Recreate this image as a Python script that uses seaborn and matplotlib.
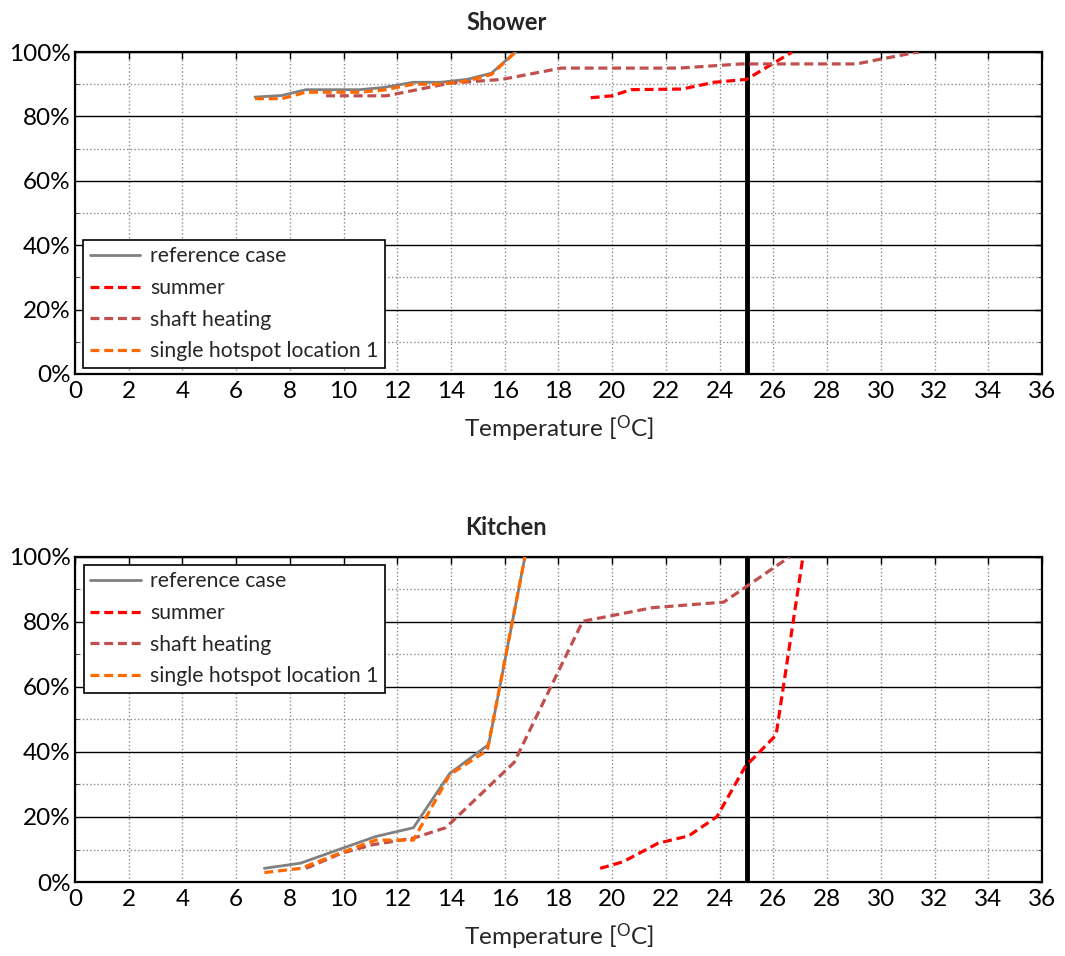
import numpy as np
import pandas as pd
import matplotlib
matplotlib.use("Agg")
import matplotlib.pyplot as plt
import seaborn as sns
from matplotlib.ticker import MultipleLocator, FuncFormatter

# ---------------- data ----------------
series_names = ["reference case", "summer", "shaft heating", "single hotspot location 1"]

# Shower
shower_ref_x = [6.7, 7.7, 8.6, 10.6, 11.5, 12.6, 13.6, 14.6, 15.5, 16.4]
shower_ref_y = [86.0, 86.5, 88.3, 88.3, 89.0, 90.6, 90.6, 91.5, 93.4, 100.0]
shower_summer_x = [19.2, 20.0, 20.7, 22.6, 23.8, 25.0, 26.0, 26.7]
shower_summer_y = [85.8, 86.4, 88.3, 88.5, 90.6, 91.5, 96.5, 100.0]
shower_shaft_x = [9.35, 11.6, 13.95, 15.9, 18.1, 22.5, 24.8, 29.1, 30.0, 31.4]
shower_shaft_y = [86.4, 86.4, 90.3, 91.5, 95.0, 95.0, 96.3, 96.3, 97.8, 100.0]
shower_hot_x = [6.7, 7.7, 8.6, 10.6, 11.5, 12.6, 13.6, 14.6, 15.5, 16.4]
shower_hot_y = [85.5, 85.5, 87.5, 87.5, 88.2, 90.0, 90.0, 91.0, 93.0, 100.0]

# Kitchen
kitchen_ref_x = [7.05, 8.4, 10.0, 11.2, 12.6, 13.95, 15.4, 16.75]
kitchen_ref_y = [4.2, 5.8, 10.5, 14.0, 16.7, 33.4, 42.3, 100.0]
kitchen_summer_x = [19.55, 20.4, 21.7, 22.85, 23.9, 24.95, 26.1, 27.1]
kitchen_summer_y = [4.2, 6.2, 11.9, 14.2, 20.1, 35.5, 45.2, 100.0]
kitchen_shaft_x = [8.6, 9.9, 11.1, 12.6, 13.8, 16.35, 18.9, 21.5, 24.15, 26.6]
kitchen_shaft_y = [4.2, 8.8, 11.5, 13.5, 16.7, 36.8, 80.2, 84.4, 86.1, 100.0]
kitchen_hot_x = [7.05, 8.4, 10.0, 11.2, 12.6, 13.95, 15.35, 16.75]
kitchen_hot_y = [2.9, 4.2, 9.3, 12.9, 12.9, 33.0, 40.5, 100.0]

limit_temp = 25
x_ticks = list(range(0, 37, 2))
y_ticks = [0, 20, 40, 60, 80, 100]

# ---------------- style ----------------
sns.set_style("white")
plt.rcParams["font.family"] = ["Lato", "DejaVu Sans"]
plt.rcParams["mathtext.fontset"] = "custom"
plt.rcParams["mathtext.rm"] = "Lato"

colors = {"reference case": "#808080", "summer": "#FF0000",
          "shaft heating": "#C0504D", "single hotspot location 1": "#FF6A00"}
styles = {"reference case": dict(lw=2.0),
          "summer": dict(lw=2.3, dashes=(2.8, 1.5)),
          "shaft heating": dict(lw=2.3, dashes=(2.8, 1.5)),
          "single hotspot location 1": dict(lw=2.3, dashes=(2.8, 1.5))}

fig = plt.figure(figsize=(10.65, 9.56), dpi=100)
ax1 = fig.add_axes([0.0704, 0.6088, 0.908, 0.3368])
ax2 = fig.add_axes([0.0704, 0.0774, 0.908, 0.340])


def draw(ax, data, title, legend_kw):
    ax.axvline(limit_temp, color="black", lw=3.5, zorder=5)
    for name, (xs, ys) in zip(series_names, data):
        df = pd.DataFrame({"x": xs, "y": ys})
        st = styles[name]
        line_kw = {"lw": st["lw"]}
        if "dashes" in st:
            line_kw["dashes"] = st["dashes"]
        sns.lineplot(data=df, x="x", y="y", ax=ax, color=colors[name],
                     label=name, sort=False, estimator=None, zorder=6,
                     **line_kw)
    ax.set_xlim(0, 36)
    ax.set_ylim(0, 100)
    ax.set_xticks(x_ticks)
    ax.set_yticks(y_ticks)
    ax.yaxis.set_minor_locator(MultipleLocator(10))
    ax.yaxis.set_major_formatter(FuncFormatter(lambda v, p: f"{int(v)}%"))
    ax.grid(False)
    ax.xaxis.grid(True, which="major", color="#8a8a8a", ls=":", lw=1.0, zorder=1)
    ax.yaxis.grid(True, which="major", color="black", ls="-", lw=1.0, zorder=1)
    ax.yaxis.grid(True, which="minor", color="#8a8a8a", ls=":", lw=1.0, zorder=1)
    ax.tick_params(axis="both", which="major", direction="in", length=5,
                   width=1, top=True, right=True, labelsize=17.5, pad=3,
                   colors="black")
    ax.tick_params(axis="x", which="major", pad=5)
    ax.tick_params(axis="y", which="minor", direction="in", length=3,
                   left=True, right=True)
    for s in ax.spines.values():
        s.set_visible(True)
        s.set_color("black")
        s.set_linewidth(1.6)
    ax.set_xlabel("Temperature [$\\mathregular{^{O}}$C]", fontsize=17.5, labelpad=8)
    ax.set_ylabel("")
    ax.set_title(title, fontsize=17, fontweight="bold", pad=16, x=0.446)
    leg = ax.legend(fontsize=15.2, frameon=True, fancybox=False, framealpha=1,
                    edgecolor="black", handlelength=2.4, handletextpad=0.45,
                    labelspacing=0.55, borderpad=0.3, borderaxespad=0,
                    **legend_kw)
    leg.get_frame().set_linewidth(1.2)
    leg.set_zorder(10)


draw(ax1, [(shower_ref_x, shower_ref_y), (shower_summer_x, shower_summer_y),
           (shower_shaft_x, shower_shaft_y), (shower_hot_x, shower_hot_y)],
     "Shower", dict(loc="lower left", bbox_to_anchor=(0.0086, 0.02)))
draw(ax2, [(kitchen_ref_x, kitchen_ref_y), (kitchen_summer_x, kitchen_summer_y),
           (kitchen_shaft_x, kitchen_shaft_y), (kitchen_hot_x, kitchen_hot_y)],
     "Kitchen", dict(loc="upper left", bbox_to_anchor=(0.009, 0.975)))

fig.savefig("out.png", dpi=100)
